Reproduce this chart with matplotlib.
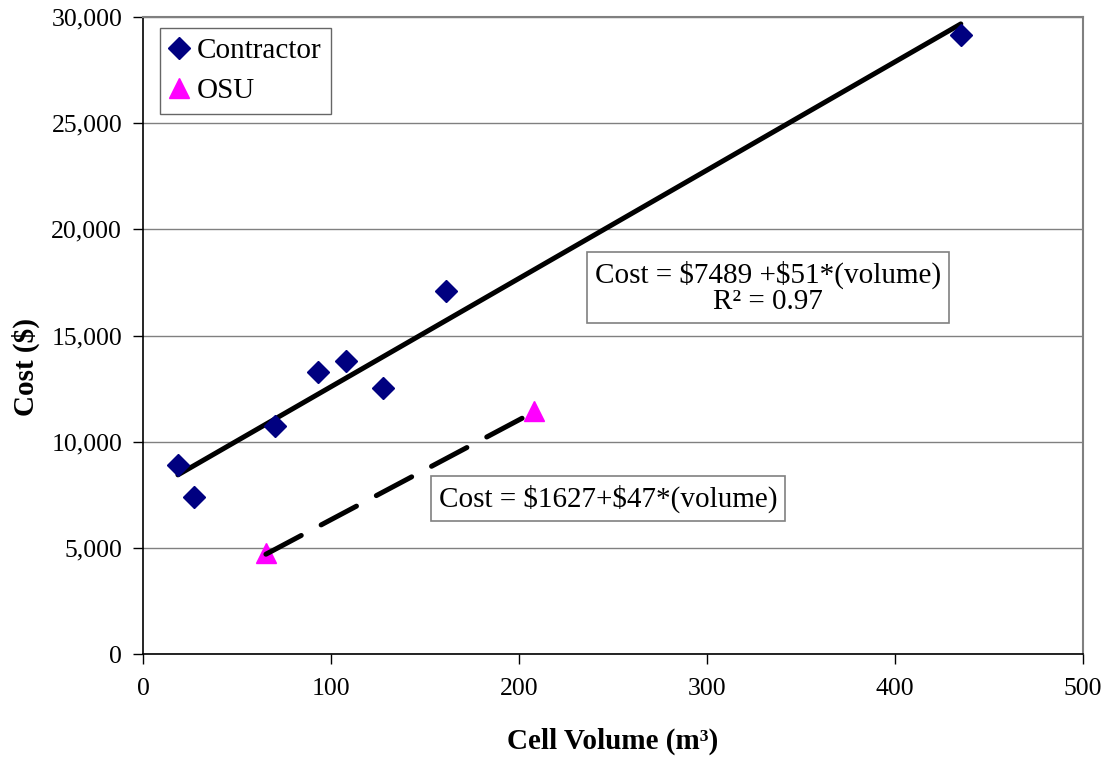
import numpy as np
import matplotlib.pyplot as plt
from matplotlib.ticker import FuncFormatter

# data
contractor_volume = [18.6, 27.1, 70.2, 93.1, 108.0, 127.7, 161.2, 435.0]
contractor_cost = [8900, 7400, 10740, 13280, 13800, 12530, 17100, 29160]
osu_volume = [65.4, 208.0]
osu_cost = [4760, 11450]

# trendline coefficients (intercept, slope) as printed on the chart
contractor_fit = (7489, 51)
osu_fit = (1627, 47)

plt.rcParams['font.family'] = ['Liberation Serif', 'DejaVu Serif']

fig = plt.figure(figsize=(11.1, 7.59), dpi=100)
ax = fig.add_axes([0.1288, 0.1383, 0.8469, 0.8393])

# gridlines
ax.set_axisbelow(True)
ax.yaxis.grid(True, color='#808080', linewidth=1.0)

# trendlines over the range of each series
xc = np.array([min(contractor_volume), max(contractor_volume)])
ax.plot(xc, contractor_fit[0] + contractor_fit[1] * xc, color='black',
        linewidth=3.6, solid_capstyle='round', zorder=2)
xo = np.array([min(osu_volume), max(osu_volume)])
ax.plot(xo, osu_fit[0] + osu_fit[1] * xo, color='black', linewidth=3.6,
        dashes=(8, 4.5), dash_capstyle='round', zorder=4)

# points
ax.plot(contractor_volume, contractor_cost, linestyle='none', marker='D',
        markersize=11, color='#000080', label='Contractor', zorder=3)
ax.plot(osu_volume, osu_cost, linestyle='none', marker='^',
        markersize=14, color='#FF00FF', label='OSU', zorder=3)

ax.set_xlim(0, 500)
ax.set_ylim(0, 30000)
ax.set_xticks([0, 100, 200, 300, 400, 500])
ax.set_yticks(np.arange(0, 30001, 5000))
ax.yaxis.set_major_formatter(FuncFormatter(lambda v, p: f'{int(v):,}'))
ax.tick_params(direction='out', length=7, width=1, labelsize=18.5, colors='black')
ax.tick_params(axis='y', pad=8)
ax.tick_params(axis='x', pad=10)

for s in ['left', 'bottom']:
    ax.spines[s].set_color('black')
    ax.spines[s].set_linewidth(1.2)
for s in ['top', 'right']:
    ax.spines[s].set_color('#808080')
    ax.spines[s].set_linewidth(1.5)

ax.set_xlabel('Cell Volume (m³)', fontsize=21, fontweight='bold', labelpad=20)
ax.set_ylabel('Cost (\\$)', fontsize=21, fontweight='bold')
ax.yaxis.set_label_coords(-0.11, 0.45)

leg = ax.legend(loc='upper left', bbox_to_anchor=(0.018, 0.983), fontsize=21,
                frameon=True, fancybox=False, edgecolor='#404040',
                handlelength=0.6, handletextpad=0.3, borderpad=0.35,
                labelspacing=0.45, borderaxespad=0)
leg.get_frame().set_linewidth(1.0)

box = dict(boxstyle='square,pad=0.28', facecolor='white', edgecolor='#808080', linewidth=1.2)
ax.text(332.4, 17240, 'Cost = \\$7489 +\\$51*(volume)\nR² = 0.97', fontsize=21,
        ha='center', va='center', multialignment='center', bbox=box,
        linespacing=1.0, zorder=5)
ax.text(247.3, 7325, 'Cost = \\$1627+\\$47*(volume)', fontsize=21,
        ha='center', va='center', bbox=box, zorder=5)

fig.savefig('out.png', dpi=100)
